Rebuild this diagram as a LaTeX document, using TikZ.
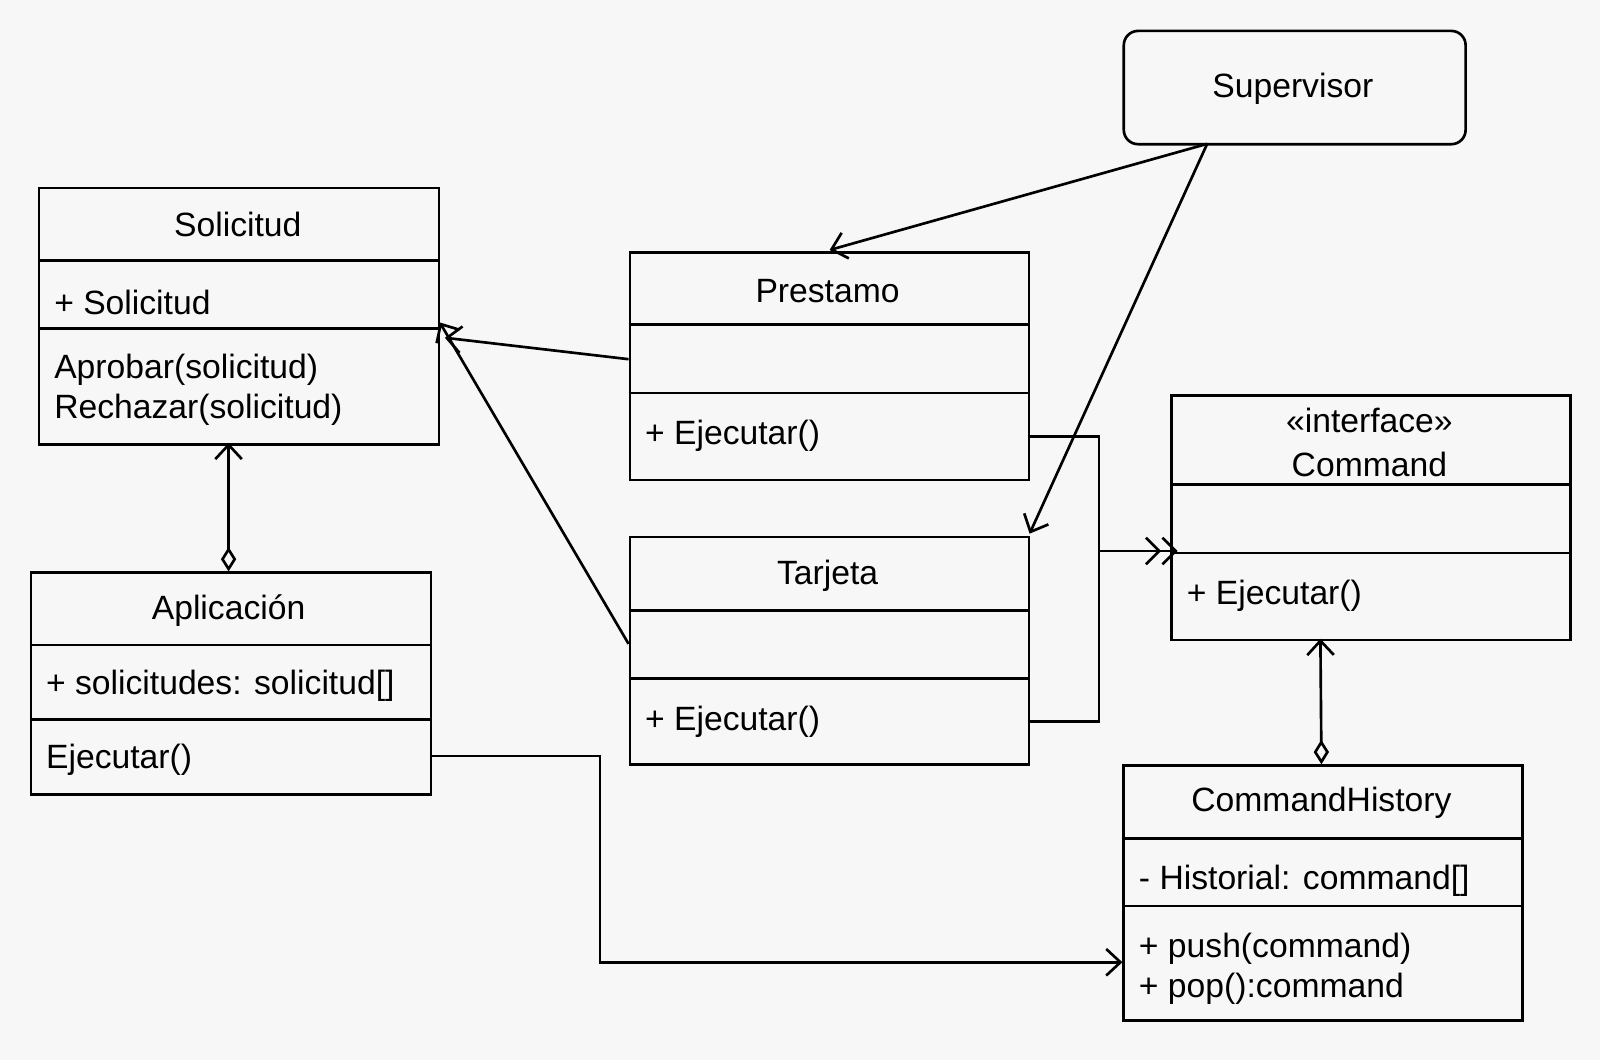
\documentclass[tikz,border=0pt]{standalone}
\usepackage{fontspec}
\setmainfont{Liberation Sans}
\usetikzlibrary{arrows.meta}
\begin{document}
\begin{tikzpicture}[x=1pt,y=-1pt,
  every node/.style={font=\fontsize{33}{39}\selectfont, inner sep=0pt},
  umlbox/.style={draw, line width=2.6pt, anchor=north west, fill=none},
  divider/.style={line width=2.6pt},
  lefttxt/.style={anchor=west, align=left},
  conn/.style={line width=2.6pt},
  openarrow/.style={-{Straight Barb[length=14pt,width=26pt]}},
  dblarrow/.style={-{Straight Barb[length=13pt,width=26pt] Straight Barb[length=13pt,width=26pt]}},
  diamarrow/.style={{Diamond[open,length=24pt,width=15pt]}-{Straight Barb[length=14pt,width=26pt]}}
]
\fill[fill={rgb,255:red,247;green,247;blue,247}] (0,0) rectangle (1568,1039);
\useasboundingbox (0,0) rectangle (1568,1039);

% Supervisor
\node[draw, line width=2.6pt, rounded corners=14pt, minimum width=335pt, minimum height=111pt, anchor=north west] (sup) at (1100,29) {};
\node (suptxt) at (1267,87) {Supervisor};

% Solicitud
\node[umlbox, minimum width=392pt, minimum height=251pt] (sol) at (37,183) {};
\draw[divider] (37,255) -- (429,255);
\draw[divider] (37,322) -- (429,322);
\node (soltitle) at (233,220) {Solicitud};
\node[lefttxt] (solattr) at (53,296) {+ Solicitud};
\node[lefttxt, anchor=north west] (solmeth) at (53,347) {Aprobar(solicitud)\\Rechazar(solicitud)};

% Prestamo
\node[umlbox, minimum width=391pt, minimum height=223pt] (pre) at (616,246) {};
\draw[divider] (616,318) -- (1007,318);
\draw[divider] (616,385) -- (1007,385);
\node (pretitle) at (811,285) {Prestamo};
\node[lefttxt] (premeth) at (632,427) {+ Ejecutar()};

% Tarjeta
\node[umlbox, minimum width=391pt, minimum height=223pt] (tar) at (616,525) {};
\draw[divider] (616,598) -- (1007,598);
\draw[divider] (616,665) -- (1007,665);
\node (tartitle) at (811,564) {Tarjeta};
\node[lefttxt] (tarmeth) at (632,707) {+ Ejecutar()};

% Command
\node[umlbox, minimum width=391pt, minimum height=240pt] (cmd) at (1147,386) {};
\draw[divider] (1147,475) -- (1538,475);
\draw[divider] (1147,542) -- (1538,542);
\node (cmdst) at (1342,412) {«interface»};
\node (cmdtitle) at (1342,455) {Command};
\node[lefttxt] (cmdmeth) at (1163,584) {+ Ejecutar()};

% Aplicacion
\node[umlbox, minimum width=392pt, minimum height=217pt] (app) at (29,560) {};
\draw[divider] (29,632) -- (421,632);
\draw[divider] (29,705) -- (421,705);
\node (apptitle) at (224,598) {Aplicación};
\node[lefttxt] (appattr) at (45,672) {+ solicitudes: solicitud[]};
\node[lefttxt] (appmeth) at (45,745) {Ejecutar()};

% CommandHistory
\node[umlbox, minimum width=391pt, minimum height=250pt] (his) at (1100,749) {};
\draw[divider] (1100,822) -- (1491,822);
\draw[divider] (1100,888) -- (1491,888);
\node (histitle) at (1295,787) {CommandHistory};
\node[lefttxt] (hisattr) at (1116,863) {- Historial: command[]};
\node[lefttxt, anchor=north west] (hismeth) at (1116,914) {+ push(command)\\+ pop():command};

% connector coordinates
\coordinate (supout) at (1183,141);
\coordinate (pretop) at (813,245);
\coordinate (tartop) at (1009,523);
\coordinate (preleft) at (616,352);
\coordinate (solin1) at (436,331);
\coordinate (tarleft) at (616,631);
\coordinate (solin2) at (431,316);
\coordinate (apptop) at (224,560);
\coordinate (solbot) at (224,434);
\coordinate (preright) at (1007,428);
\coordinate (tarright) at (1007,707);
\coordinate (cmdin) at (1154,540);
\coordinate (histop) at (1295,749);
\coordinate (cmdbot) at (1294,626);
\coordinate (appright) at (421,741);
\coordinate (hisleft) at (1100,943);

\draw[conn, openarrow] (supout) -- (pretop);
\draw[conn, openarrow] (supout) -- (tartop);
\draw[conn, openarrow] (preleft) -- (solin1);
\draw[conn, openarrow] (tarleft) -- (solin2);
\draw[conn, diamarrow] (apptop) -- (solbot);
\draw[conn, dblarrow] (preright) -- (1077,428) -- (1077,540) -- (cmdin);
\draw[conn] (tarright) -- (1077,707) -- (1077,540);
\draw[conn, diamarrow] (histop) -- (cmdbot);
\draw[conn, openarrow] (appright) -- (588,741) -- (588,943) -- (hisleft);
\end{tikzpicture}
\end{document}
